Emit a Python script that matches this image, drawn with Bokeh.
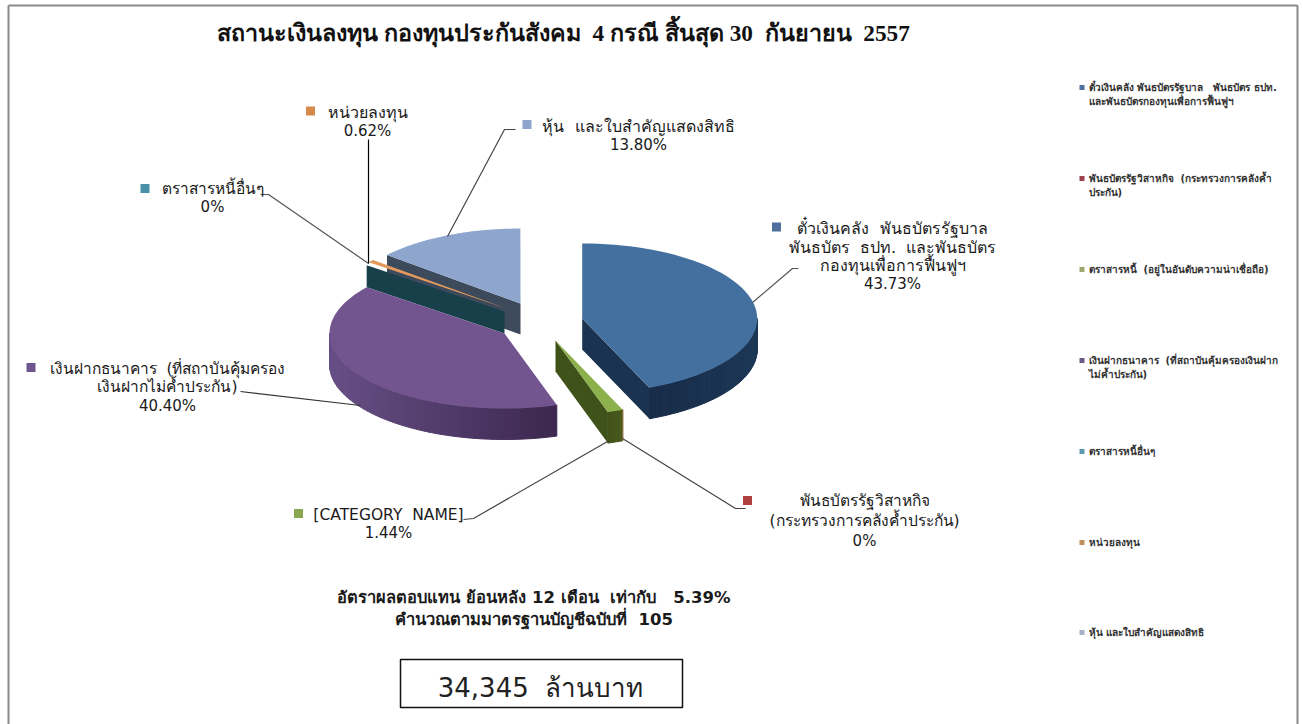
import math
from bokeh.plotting import figure
from bokeh.models import Range1d
from bokeh.core.properties import value
from bokeh.embed import file_html
from bokeh.resources import INLINE

NB = "\u00a0"
TITLE = "สถานะเงินลงทุน กองทุนประกันสังคม  4 กรณี สิ้นสุด 30  กันยายน  2557"
CATEGORIES = [
    "ตั๋วเงินคลัง พันธบัตรรัฐบาล  พันธบัตร ธปท. และพันธบัตรกองทุนเพื่อการฟื้นฟูฯ",
    "พันธบัตรรัฐวิสาหกิจ  (กระทรวงการคลังค้ำประกัน)",
    "ตราสารหนี้ (อยู่ในอันดับความน่าเชื่อถือ)",
    "เงินฝากธนาคาร (ที่สถาบันคุ้มครองเงินฝากไม่ค้ำประกัน)",
    "ตราสารหนี้อื่นๆ",
    "หน่วยลงทุน",
    "หุ้น และใบสำคัญแสดงสิทธิ",
]
SHARES = [43.73, 0, 1.44, 40.40, 0, 0.62, 13.80]
SHARE_LABELS = ["43.73%", "0%", "1.44%", "40.40%", "0%", "0.62%", "13.80%"]
LABEL_NAMES = [
    ["ตั๋วเงินคลัง  พันธบัตรรัฐบาล", "พันธบัตร  ธปท.  และพันธบัตร", "กองทุนเพื่อการฟื้นฟูฯ"],
    ["พันธบัตรรัฐวิสาหกิจ", "(กระทรวงการคลังค้ำประกัน)"],
    ["[CATEGORY  NAME]"],
    ["เงินฝากธนาคาร  (ที่สถาบันคุ้มครอง", "เงินฝากไม่ค้ำประกัน)"],
    ["ตราสารหนี้อื่นๆ"],
    ["หน่วยลงทุน"],
    ["หุ้น  และใบสำคัญแสดงสิทธิ"],
]
LEGEND_LINES = [
    ["ตั๋วเงินคลัง พันธบัตรรัฐบาล   พันธบัตร ธปท.", "และพันธบัตรกองทุนเพื่อการฟื้นฟูฯ"],
    ["พันธบัตรรัฐวิสาหกิจ  (กระทรวงการคลังค้ำ", "ประกัน)"],
    ["ตราสารหนี้  (อยู่ในอันดับความน่าเชื่อถือ)"],
    ["เงินฝากธนาคาร  (ที่สถาบันคุ้มครองเงินฝาก", "ไม่ค้ำประกัน)"],
    ["ตราสารหนี้อื่นๆ"],
    ["หน่วยลงทุน"],
    ["หุ้น และใบสำคัญแสดงสิทธิ"],
]
NOTE_LINES = ["อัตราผลตอบแทน ย้อนหลัง 12 เดือน  เท่ากับ   5.39%", "คำนวณตามมาตรฐานบัญชีฉบับที่  105"]
TOTAL_TEXT = "34,345  ล้านบาท"


def keep(s):
    return s.replace(" ", NB)


# ---- styling and layout (pixels of the page picture) ----
TOPS = ["#44709f", "#b04040", "#8bb04c", "#72548f", "#17404a", "#e39a5c", "#8ea6cd"]
FACES = ["#1a3350", "#7a2c2c", "#3f5219", "#3e2a52", "#17404a", "#a56a32", "#3d4a5c"]
WALL_FROM = {0: "#172c48", 2: "#3f5219", 3: "#674f85"}
WALL_TO = {0: "#1c3756", 2: "#4a5a1e", 3: "#3c2850"}
MARKERS = ["#4f6f9f", "#b04040", "#8aa84f", "#6f5590", "#4a90a8", "#d68a4a", "#8ea6cd"]
LEGEND_MARKS = ["#4f6f9f", "#a0404a", "#9aa870", "#6a5a85", "#5a9ab0", "#c09060", "#a8b0c8"]
APEX = [(581.7, 318), (555, 340), (555, 340), (504, 333), (504, 311), (506, 308), (520, 303)]
RX, RY, DEPTH = 175.0, 75.0, 31.0
FONT = "DejaVu Sans"

p = figure(width=1303, height=724, output_backend="svg", toolbar_location=None,
           x_range=Range1d(0, 1303), y_range=Range1d(724, 0), min_border=0,
           background_fill_color="white", border_fill_color="white")
p.axis.visible = False
p.grid.visible = False
p.outline_line_color = None


def rim(i, a0, a1, n=60):
    ax, ay = APEX[i]
    pts = []
    for k in range(n + 1):
        t = math.radians(a0 + (a1 - a0) * k / n)
        pts.append((ax + RX * math.sin(t), ay - RY * math.cos(t)))
    return pts


def mix(c0, c1, f):
    a = [int(c0[j:j + 2], 16) for j in (1, 3, 5)]
    b = [int(c1[j:j + 2], 16) for j in (1, 3, 5)]
    return "#%02x%02x%02x" % tuple(round(u + (v - u) * f) for u, v in zip(a, b))


# slice angles from the shares, clockwise from 12 o'clock
ends = []
run = 0.0
for s in SHARES:
    ends.append((run, run + s * 3.6))
    run += s * 3.6


def top(i):
    a0, a1 = ends[i]
    r = rim(i, a0, a1)
    ax, ay = APEX[i]
    p.patch([ax] + [u for u, _ in r], [ay] + [v for _, v in r], fill_color=TOPS[i], line_color=None)


def cut_face(i, angle, depth=DEPTH):
    ax, ay = APEX[i]
    t = math.radians(angle)
    ox, oy = ax + RX * math.sin(t), ay - RY * math.cos(t)
    p.patch([ax, ox, ox, ax], [ay, oy, oy + depth, ay + depth], fill_color=FACES[i], line_color=None)


def wall(i, a0, a1, n=50):
    r = rim(i, a0, a1, n)
    lo = min(u for u, _ in r)
    hi = max(u for u, _ in r)
    xs, ys, cs = [], [], []
    for k in range(n):
        (x0, y0), (x1, y1) = r[k], r[k + 1]
        xs.append([x0, x1, x1, x0])
        ys.append([y0, y1, y1 + DEPTH, y0 + DEPTH])
        cs.append(mix(WALL_FROM[i], WALL_TO[i], (x0 - lo) / max(1.0, hi - lo)))
    p.patches(xs, ys, fill_color=cs, line_color=cs, line_width=1)


# back slice first, front slices last
cut_face(6, ends[6][0])
top(6)
cut_face(4, ends[4][0], depth=22)
top(5)
wall(3, ends[3][0], 270.0)
top(3)
cut_face(2, ends[2][1])
wall(2, ends[2][0], ends[2][1], n=6)
edge = rim(2, ends[2][0], ends[2][0], 1)[0]
p.line([edge[0], edge[0]], [edge[1], edge[1] + DEPTH], line_color="#8a6a3a", line_width=1.2)
top(2)
cut_face(0, ends[0][1])
wall(0, 90.0, ends[0][1])
top(0)

# leader lines, pie rim to label
LEADERS_X = [[752, 792, 798], [622, 735, 745], [607, 473, 463], [360, 240], [368, 268, 260], [368, 368], [447, 504, 515]]
LEADERS_Y = [[302, 268, 268], [438, 508, 508], [441, 518, 519], [405, 391], [263, 194, 194], [263, 139], [236, 129, 129]]
LEADER_COLORS = ["#555555", "#444444", "#444444", "#333333", "#555555", "#000000", "#444444"]
p.multi_line(LEADERS_X, LEADERS_Y, line_color=LEADER_COLORS, line_width=1.2)

# data labels
LABEL_CX = [892, 864, 388, 167, 212, 367, 638]
LABEL_Y0 = [228, 500, 514, 368, 188, 112, 126]
LABEL_DY = [18.5, 20, 18, 18.5, 18, 18, 18]
LABEL_SIZE = ["16px", "15.5px", "15.5px", "15.5px", "15.5px", "16px", "16px"]
MARK_CX = [776, 747, 298, 30.5, 144.5, 310, 526.5]
MARK_CY = [226.5, 500, 513, 367, 188, 110.5, 124]
for i in range(7):
    names = [keep(s) for s in LABEL_NAMES[i]]
    ys = [LABEL_Y0[i] + LABEL_DY[i] * k for k in range(len(names) + 1)]
    p.text([LABEL_CX[i]] * len(names), ys[:-1], text=names, text_font=value(FONT),
           text_font_size=LABEL_SIZE[i], text_color="#1a1a1a", text_align="center", text_baseline="middle")
    p.text([LABEL_CX[i]], ys[-1:], text=[SHARE_LABELS[i]], text_font=value(FONT),
           text_font_size="15px", text_color="#1a1a1a", text_align="center", text_baseline="middle")
p.rect(MARK_CX, MARK_CY, width=9, height=9, fill_color=MARKERS, line_color=None)

# title, note, total box
p.text([563], [32], text=[keep(TITLE)], text_font=value("Liberation Serif"), text_font_style="bold",
       text_font_size="23.3px", text_color="#111111", text_align="center", text_baseline="middle")
p.text([533.5, 533.5], [597, 619], text=[keep(s) for s in NOTE_LINES], text_font=value(FONT), text_font_style="bold",
       text_font_size="16.5px", text_color="#1a1a1a", text_align="center", text_baseline="middle")
p.quad(left=[400], right=[682], top=[659], bottom=[707], fill_color="white", line_color="#111111", line_width=1.5)
p.text([540], [687], text=[keep(TOTAL_TEXT)], text_font=value(FONT), text_font_size="26px",
       text_color="#222222", text_align="center", text_baseline="middle")

# legend on the right
LEG_Y = [87, 178, 269, 360, 451, 542, 632]
for i in range(7):
    ys = [LEG_Y[i] + 14 * k for k in range(len(LEGEND_LINES[i]))]
    p.text([1088] * len(ys), ys, text=[keep(s) for s in LEGEND_LINES[i]], text_font=value(FONT),
           text_font_size="10px", text_font_style="bold",
           text_color="#333333", text_align="left", text_baseline="middle")
p.rect([1081.5] * 7, LEG_Y, width=5, height=5, fill_color=LEGEND_MARKS, line_color=None)

# picture frame
p.multi_line([[8, 8], [8, 1297], [1297, 1297]], [[724, 5], [5, 5], [5, 724]], line_color="#8a8a8a", line_width=2)

open("out.html", "w").write(file_html(p, INLINE))
